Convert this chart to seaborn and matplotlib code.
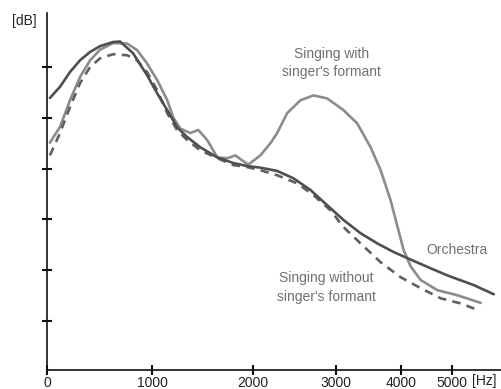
import numpy as np
import pandas as pd
import matplotlib
matplotlib.use("Agg")
import matplotlib.pyplot as plt
import seaborn as sns

# Spectral envelopes (frequency in Hz, level in dB)
orchestra_hz = [25, 121, 216, 311, 407, 502, 626, 692, 815, 948, 1047, 1147, 1246, 1346,
                1475, 1645, 1804, 1943, 2088, 2291, 2488, 2694, 2896, 3118, 3378, 3633,
                3882, 4118, 4575, 4902, 5473, 5917]
orchestra_db = [53.9, 56.1, 59.0, 61.3, 62.95, 64.1, 64.9, 65.0, 62.7, 58.4, 54.8, 51.5, 48.1,
                46.2, 44.2, 42.2, 41.1, 40.5, 40.2, 39.55, 38.1, 35.8, 32.8, 29.9, 27.3,
                25.3, 23.6, 22.4, 20.4, 19.0, 17.1, 15.3]

formant_hz = [25, 121, 216, 311, 407, 502, 626, 759, 854, 948, 1047, 1147, 1206, 1276, 1376,
              1456, 1545, 1645, 1745, 1824, 1894, 1953, 2088, 2210, 2291, 2412, 2573, 2731,
              2896, 3118, 3327, 3531, 3684, 3836, 3943, 4045, 4182, 4378, 4706, 5111, 5628]
formant_db = [45.1, 48.2, 53.45, 58.0, 61.3, 63.4, 64.7, 64.6, 63.3, 60.7, 57.4, 53.45, 50.1,
              47.9, 47.0, 47.6, 45.6, 42.2, 42.05, 42.6, 41.6, 40.8, 42.6, 45.0, 47.0, 50.9,
              53.45, 54.4, 53.8, 51.5, 48.9, 44.2, 39.7, 33.8, 28.5, 24.0, 20.8, 18.1, 16.1,
              15.1, 13.6]

no_formant_hz = [25, 121, 216, 311, 407, 502, 626, 759, 854, 948, 1047, 1147, 1246, 1346,
                 1475, 1645, 1804, 1943, 2088, 2291, 2533, 2730, 2936, 3118, 3378, 3684,
                 3989, 4378, 4771, 5184, 5561]
no_formant_db = [42.6, 47.0, 52.1, 56.8, 60.0, 61.7, 62.5, 62.3, 61.3, 59.0, 55.4, 50.9, 47.55,
                 45.6, 43.6, 42.05, 40.7, 40.3, 39.7, 38.7, 37.1, 34.8, 31.8, 28.5, 25.3,
                 21.6, 18.65, 16.5, 14.5, 13.5, 12.2]

x_ticks = [0, 1000, 2000, 3000, 4000, 5000]
y_ticks = [10, 20, 30, 40, 50, 60]

# Warped frequency axis: tick spacing shrinks toward high frequencies
scale_hz = [0, 1000, 2000, 3000, 4000, 5000, 7000]
scale_pos = [0, 105, 205.4, 288, 353.4, 404.4, 494.4]


def forward(v):
    return np.interp(v, scale_hz, scale_pos)


def inverse(v):
    return np.interp(v, scale_pos, scale_hz)


sns.set_theme(style="white")
plt.rcParams["font.family"] = ["Liberation Sans", "DejaVu Sans"]

fig = plt.figure(figsize=(5.02, 3.89), dpi=100)
ax = fig.add_axes([0.0942, 0.0488, 0.9058, 0.9177])

df_orch = pd.DataFrame({"hz": orchestra_hz, "db": orchestra_db})
df_form = pd.DataFrame({"hz": formant_hz, "db": formant_db})
df_none = pd.DataFrame({"hz": no_formant_hz, "db": no_formant_db})

sns.lineplot(data=df_form, x="hz", y="db", ax=ax, color="#8c8c8c", linewidth=1.9)
sns.lineplot(data=df_none, x="hz", y="db", ax=ax, color="#606060", linewidth=1.9,
             linestyle=(0, (3.2, 2.4)))
sns.lineplot(data=df_orch, x="hz", y="db", ax=ax, color="#4f4f4f", linewidth=1.9)

ax.set_xscale("function", functions=(forward, inverse))
ax.set_xlim(0, 6100)
ax.set_ylim(0.4, 70.6)
ax.set_xticks(x_ticks)
ax.set_xticklabels([str(t) for t in x_ticks])
ax.set_yticks(y_ticks)
ax.set_yticklabels([])
ax.minorticks_off()
ax.set_xlabel("")
ax.set_ylabel("")

for side in ("top", "right"):
    ax.spines[side].set_visible(False)
for side in ("left", "bottom"):
    ax.spines[side].set_color("#111111")
    ax.spines[side].set_linewidth(1.2)

ax.tick_params(axis="both", which="major", direction="inout", length=6.5, width=1.5,
               color="#111111", bottom=True, left=True, labelsize=10, pad=1.2,
               labelcolor="#222222")

text_color = "#707070"
ax.text(2950, 60.8, "Singing with\nsinger's formant", ha="center", va="center",
        fontsize=10, color=text_color, linespacing=1.4)
ax.text(5107, 24.0, "Orchestra", ha="center", va="center", fontsize=10, color=text_color)
ax.text(2881, 16.6, "Singing without\nsinger's formant", ha="center", va="center",
        fontsize=10, color=text_color, linespacing=1.4)

fig.text(24 / 502, 1 - 21 / 389, "[dB]", ha="center", va="center", fontsize=10,
         color="#222222")
ax.text(5715, -0.35, "[Hz]", ha="center", va="top", fontsize=10, color="#222222",
        clip_on=False)

fig.savefig("out.png", dpi=100)
